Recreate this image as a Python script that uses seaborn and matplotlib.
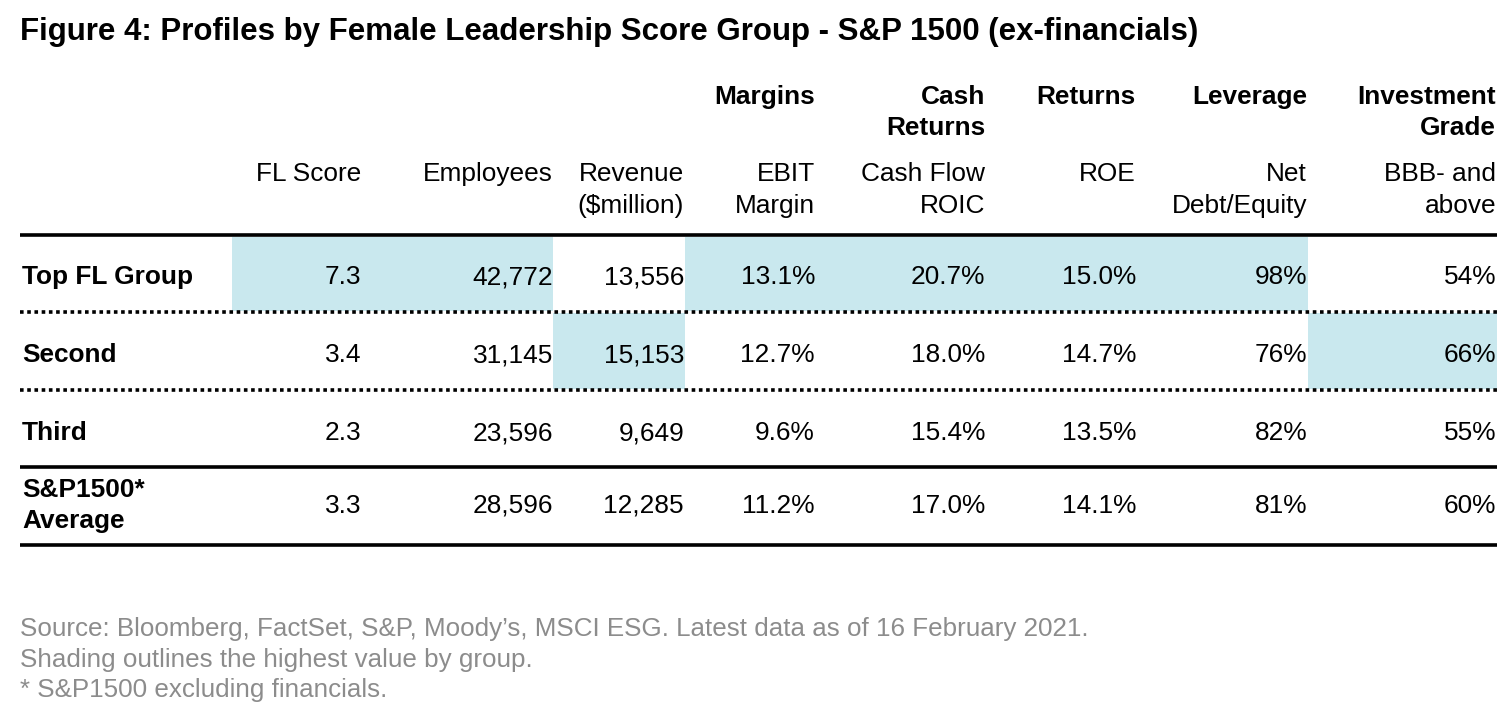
import matplotlib
matplotlib.use("Agg")
import matplotlib.pyplot as plt
import seaborn as sns
import numpy as np

# --- Data ---
groups = ["Top FL Group", "Second", "Third", "S&P1500*\nAverage"]
fl_score = [7.3, 3.4, 2.3, 3.3]
employees = [42772, 31145, 23596, 28596]
revenue = [13556, 15153, 9649, 12285]
ebit_margin = [13.1, 12.7, 9.6, 11.2]
cash_flow_roic = [20.7, 18.0, 15.4, 17.0]
roe = [15.0, 14.7, 13.5, 14.1]
net_debt_equity = [98, 76, 82, 81]
bbb_and_above = [54, 66, 55, 60]

group_headers = ["", "", "", "Margins", "Cash\nReturns", "Returns", "Leverage", "Investment\nGrade"]
col_headers = ["FL Score", "Employees", "Revenue\n($million)", "EBIT\nMargin",
               "Cash Flow\nROIC", "ROE", "Net\nDebt/Equity", "BBB- and\nabove"]

title = "Figure 4: Profiles by Female Leadership Score Group - S&P 1500 (ex-financials)"
notes = ["Source: Bloomberg, FactSet, S&P, Moody\u2019s, MSCI ESG. Latest data as of 16 February 2021.",
         "Shading outlines the highest value by group.",
         "* S&P1500 excluding financials."]

columns = [fl_score, employees, revenue, ebit_margin, cash_flow_roic, roe, net_debt_equity, bbb_and_above]
formats = ["{:.1f}", "{:,.0f}", "{:,.0f}", "{:.1f}%", "{:.1f}%", "{:.1f}%", "{:.0f}%", "{:.0f}%"]

# --- Layout (pixel coordinates) ---
col_right = [361, 553, 684, 815, 985, 1136, 1307, 1496]
col_left = [232, 380, 553, 685, 830, 990, 1140, 1308]
table_right = 1497
row_top = [237, 313, 391, 469]
row_bottom = [311, 389, 466, 544]
row_base = [284, 362, 440, 513]

SHADE = "#C9E8EE"
GREY = "#8C8C8C"

sns.set_theme(style="white")
plt.rcParams["font.family"] = ["Liberation Sans", "DejaVu Sans"]
plt.rcParams["text.color"] = "black"

fig = plt.figure(figsize=(15, 7.18), dpi=100)
ax = fig.add_axes([0, 0, 1, 1])
ax.set_xlim(0, 1500)
ax.set_ylim(718, 0)
ax.axis("off")

FS = 18.9

# shading: highest value per column among the three groups
for j, col in enumerate(columns):
    best = int(np.argmax(col[:3]))
    right = col_left[j + 1] if j + 1 < len(col_left) else table_right
    ax.bar(col_left[j], row_bottom[best] - row_top[best], width=right - col_left[j],
           bottom=row_top[best], align="edge", color=SHADE, linewidth=0, zorder=1)

# title
ax.text(20, 40, title, fontsize=22.5, fontweight="bold", ha="left", va="baseline")

# headers
for j in range(len(col_headers)):
    if group_headers[j]:
        for k, line in enumerate(group_headers[j].split("\n")):
            ax.text(col_right[j], 104 + 31 * k, line, fontsize=FS, fontweight="bold",
                    ha="right", va="baseline")
    for k, line in enumerate(col_headers[j].split("\n")):
        ax.text(col_right[j], 181 + 32 * k, line, fontsize=FS, ha="right", va="baseline")

# rows
for i, g in enumerate(groups):
    lines = g.split("\n")
    if len(lines) == 1:
        ax.text(22, row_base[i], g, fontsize=FS, fontweight="bold", ha="left", va="baseline")
    else:
        for k, line in enumerate(lines):
            ax.text(22, row_base[i] - 16 + 31 * k, line, fontsize=FS, fontweight="bold",
                    ha="left", va="baseline")
    for j, col in enumerate(columns):
        ax.text(col_right[j], row_base[i], formats[j].format(col[i]), fontsize=FS,
                ha="right", va="baseline", zorder=3)

# rules
ax.plot([20, table_right], [235, 235], color="black", lw=2.6, solid_capstyle="butt", zorder=2)
for y in [312, 390]:
    ax.plot([20, table_right], [y, y], color="black", lw=2.6, linestyle=(0, (1, 1)),
            dash_capstyle="butt", zorder=2)
for y in [467, 545]:
    ax.plot([20, table_right], [y, y], color="black", lw=2.6, solid_capstyle="butt", zorder=2)

# footnotes
for k, note in enumerate(notes):
    ax.text(20, 636 + 30.5 * k, note, fontsize=18.7, color=GREY, ha="left", va="baseline")

fig.savefig("out.png", dpi=100)
